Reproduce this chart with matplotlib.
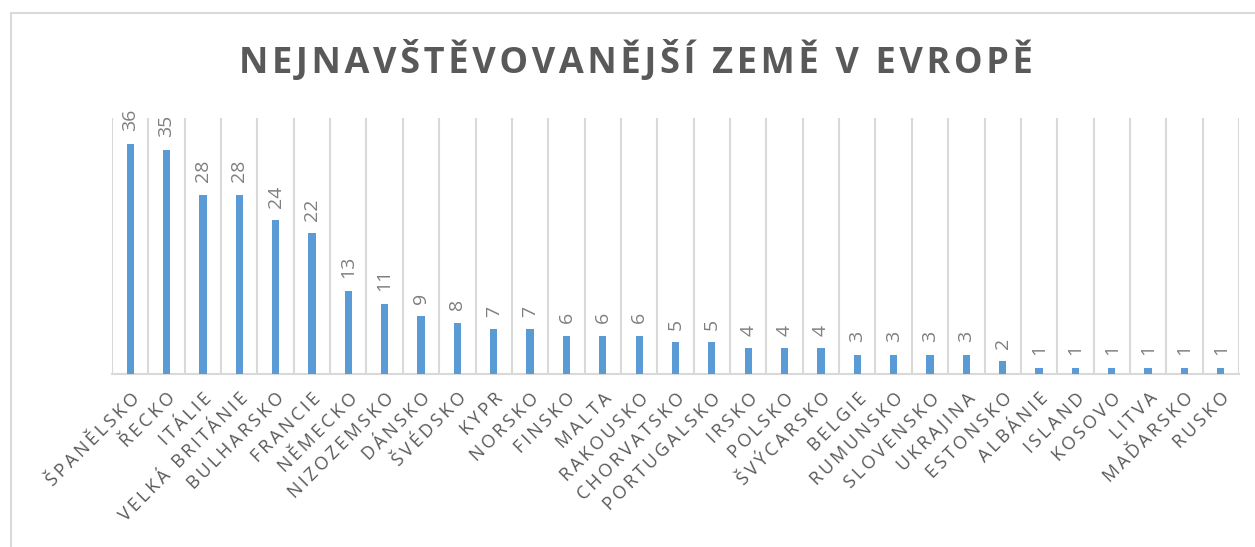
import matplotlib
matplotlib.use("Agg")
import matplotlib.pyplot as plt
from matplotlib.patches import Rectangle
import numpy as np

categories = ["ŠPANĚLSKO", "ŘECKO", "ITÁLIE", "VELKÁ BRITÁNIE", "BULHARSKO", "FRANCIE",
              "NĚMECKO", "NIZOZEMSKO", "DÁNSKO", "ŠVÉDSKO", "KYPR", "NORSKO", "FINSKO",
              "MALTA", "RAKOUSKO", "CHORVATSKO", "PORTUGALSKO", "IRSKO", "POLSKO",
              "ŠVÝCARSKO", "BELGIE", "RUMUNSKO", "SLOVENSKO", "UKRAJINA", "ESTONSKO",
              "ALBÁNIE", "ISLAND", "KOSOVO", "LITVA", "MAĎARSKO", "RUSKO"]
values = [36, 35, 28, 28, 24, 22, 13, 11, 9, 8, 7, 7, 6, 6, 6, 5, 5, 4, 4, 4,
          3, 3, 3, 3, 2, 1, 1, 1, 1, 1, 1]
title = "NEJNAVŠTĚVOVANĚJŠÍ ZEMĚ V EVROPĚ"

FAM = ["Open Sans", "DejaVu Sans"]
BAR = "#5B9BD5"
TXT = "#595959"
LBL = "#7F7F7F"
GRID = "#D9D9D9"


def track(s, sep):
    return sep.join(list(s))


fig = plt.figure(figsize=(12.55, 5.47), dpi=100)
W, H = 1255, 547

# chart border (top and left visible)
fig.patches.append(Rectangle((11 / W, -0.1), 1.2, 1 - 13 / H + 0.1, transform=fig.transFigure,
                             fill=False, edgecolor=GRID, linewidth=1.5))

ax = fig.add_axes([112 / W, 1 - 374 / H, (1239 - 112) / W, (374 - 118) / H])
n = len(categories)
x = np.arange(n)
ax.bar(x, values, width=0.2, color=BAR, zorder=3)
ax.set_xlim(-0.5, n - 0.5)
ax.set_ylim(0, 40)

for b in np.arange(-0.5, n, 1.0):
    ax.axvline(b, color=GRID, linewidth=1.5, zorder=1)
for s in ["top", "right", "left"]:
    ax.spines[s].set_visible(False)
ax.spines["bottom"].set_color(GRID)
ax.spines["bottom"].set_linewidth(1.5)
ax.set_yticks([])
ax.set_xticks(x)
ax.set_xticklabels([track(c, "\u2009") for c in categories], rotation=45, ha="right",
                   va="top", rotation_mode="anchor", fontsize=13, color=TXT, family=FAM)
ax.tick_params(axis="x", length=0, pad=11)

for xi, v in zip(x, values):
    ax.annotate(str(v), (xi, v), xytext=(0, 9), textcoords="offset points", rotation=90,
                ha="center", va="bottom", fontsize=14, color=LBL, family=FAM)

fig.text(636 / W, 1 - 61 / H, track(title, "\u200a"), ha="center", va="center",
         fontsize=26, fontweight="bold", color=TXT, family=FAM)

fig.savefig("out.png", dpi=100)
